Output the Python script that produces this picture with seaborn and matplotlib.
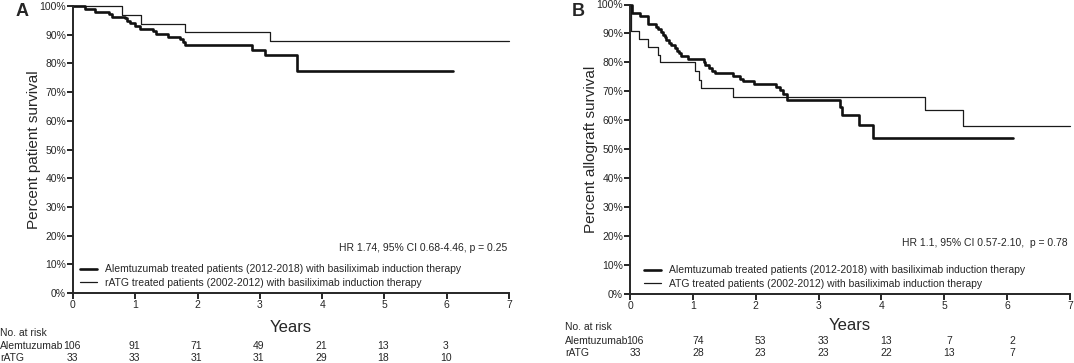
import pandas as pd
import seaborn as sns
import matplotlib.pyplot as plt
from matplotlib.lines import Line2D
from matplotlib.transforms import blended_transform_factory, offset_copy

sns.set_style('ticks')
plt.rcParams['font.family'] = ['Liberation Sans', 'DejaVu Sans']

# Panel A - patient survival (Kaplan-Meier steps, years / percent)
a_alem_t = [0, 0.19, 0.35, 0.58, 0.62, 0.83, 0.87, 0.91, 1.0, 1.08, 1.28, 1.33, 1.53,
            1.72, 1.77, 1.8, 2.87, 3.08, 3.59, 6.1]
a_alem_s = [100, 99.1, 98.0, 97.2, 96.3, 95.7, 94.9, 94.0, 93.0, 92.1, 91.2, 90.2, 89.3,
            88.4, 87.5, 86.4, 84.8, 82.8, 77.5, 77.5]
a_ratg_t = [0, 0.78, 1.09, 1.8, 3.16, 7.0]
a_ratg_s = [100, 97.0, 93.9, 90.9, 87.9, 87.9]

# Panel B - allograft survival
b_alem_t = [0, 0.03, 0.16, 0.28, 0.42, 0.45, 0.49, 0.53, 0.56, 0.58, 0.62, 0.66, 0.71,
            0.74, 0.78, 0.81, 0.93, 1.17, 1.19, 1.25, 1.31, 1.36, 1.64, 1.75, 1.80, 1.98,
            2.33, 2.39, 2.44, 2.49, 3.34, 3.37, 3.65, 3.87, 6.1]
b_alem_s = [100, 97.2, 96.1, 93.3, 92.3, 91.4, 90.5, 89.6, 88.7, 87.8, 86.8, 85.9, 85.0,
            84.1, 83.2, 82.2, 81.3, 80.3, 79.1, 78.0, 77.2, 76.3, 75.3, 74.4, 73.5, 72.6,
            71.4, 70.3, 69.1, 67.1, 64.6, 62.0, 58.4, 54.0, 54.0]
b_atg_t = [0, 0.02, 0.15, 0.28, 0.45, 0.48, 1.03, 1.09, 1.13, 1.64, 4.69, 5.29, 7.0]
b_atg_s = [100, 90.9, 88.2, 85.4, 82.7, 80.0, 76.9, 74.0, 71.1, 68.0, 63.6, 57.9, 57.9]

years = [0, 1, 2, 3, 4, 5, 6, 7]
yticks = [0, 10, 20, 30, 40, 50, 60, 70, 80, 90, 100]

# numbers at risk
a_risk_alem = [106, 91, 71, 49, 21, 13, 3]
a_risk_ratg = [33, 33, 31, 31, 29, 18, 10]
b_risk_alem = [106, 74, 53, 33, 13, 7, 2]
b_risk_ratg = [33, 28, 23, 23, 22, 13, 7]

W, H = 1074, 363
fig = plt.figure(figsize=(W / 100, H / 100), dpi=100)


def fx(px):
    return px / W


def fy(py):
    return 1 - py / H


def km_panel(ax, t1, s1, t2, s2, ylabel, labels, hr_text, hr_y, leg_xy, risk1, risk2,
             risk_y, years_y, row_x, num_dx, letter, letter_x):
    sns.lineplot(x=t2, y=s2, drawstyle='steps-post', color='#1a1a1a', linewidth=0.9,
                 ax=ax, clip_on=False)
    sns.lineplot(x=t1, y=s1, drawstyle='steps-post', color='#111111', linewidth=1.9,
                 ax=ax, clip_on=False)
    ax.set_xlim(0, 7)
    ax.set_ylim(0, 100)
    ax.set_xticks(years)
    ax.set_yticks(yticks)
    ax.set_yticklabels([f'{v}%' for v in yticks])
    ax.tick_params(labelsize=7.5, length=4, width=1.2, color='black', pad=1)
    for sp in ['left', 'bottom']:
        ax.spines[sp].set_linewidth(1.4)
    sns.despine(ax=ax)
    ax.set_xlabel('')
    ax.set_ylabel(ylabel, fontsize=11, labelpad=-1)

    handles = [Line2D([], [], color='#111111', lw=1.9),
               Line2D([], [], color='#1a1a1a', lw=0.9)]
    ax.legend(handles, labels, loc='lower left', bbox_to_anchor=leg_xy,
              frameon=False, fontsize=7.5, handlelength=1.6, handletextpad=0.8,
              labelspacing=0.35, borderpad=0.2)
    ax.text(0.995, hr_y, hr_text, transform=ax.transAxes, ha='right', va='center',
            fontsize=7.5)

    tr = blended_transform_factory(ax.transData, fig.transFigure)
    tr_num = offset_copy(tr, fig=fig, x=num_dx, y=0, units='dots')
    ax.text(3.5, fy(years_y), 'Years', transform=tr, ha='center', va='center', fontsize=12)
    fig.text(fx(row_x), fy(risk_y[0]), 'No. at risk', ha='left', va='center', fontsize=7.5)
    fig.text(fx(row_x), fy(risk_y[1]), 'Alemtuzumab', ha='left', va='center', fontsize=7.5)
    fig.text(fx(row_x), fy(risk_y[2]), 'rATG', ha='left', va='center', fontsize=7.5)
    for yr, n1, n2 in zip(years, risk1, risk2):
        ax.text(yr, fy(risk_y[1]), str(n1), transform=tr_num, ha='center', va='center',
                fontsize=7.5)
        ax.text(yr, fy(risk_y[2]), str(n2), transform=tr_num, ha='center', va='center',
                fontsize=7.5)
    fig.text(fx(letter_x), fy(11), letter, ha='left', va='center', fontsize=13,
             fontweight='bold')


ax_a = fig.add_axes([fx(73), fy(293), fx(509 - 73), (293 - 6) / H])
km_panel(ax_a, a_alem_t, a_alem_s, a_ratg_t, a_ratg_s, 'Percent patient survival',
         ['Alemtuzumab treated patients (2012-2018) with basiliximab induction therapy',
          'rATG treated patients (2002-2012) with basiliximab induction therapy'],
         'HR 1.74, 95% CI 0.68-4.46, p = 0.25', 0.157, (0.0, -0.008),
         a_risk_alem, a_risk_ratg, (333, 346, 358), 327, 0, -1, 'A', 16)

ax_b = fig.add_axes([fx(630), fy(294), fx(1070 - 630), (294 - 4.5) / H])
km_panel(ax_b, b_alem_t, b_alem_s, b_atg_t, b_atg_s, 'Percent allograft survival',
         ['Alemtuzumab treated patients (2012-2018) with basiliximab induction therapy',
          'ATG treated patients (2002-2012) with basiliximab induction therapy'],
         'HR 1.1, 95% CI 0.57-2.10,  p = 0.78', 0.175, (0.016, -0.008),
         b_risk_alem, b_risk_ratg, (327, 341, 353), 325, 565, 5, 'B', 572)

fig.savefig('out.png', dpi=100)
